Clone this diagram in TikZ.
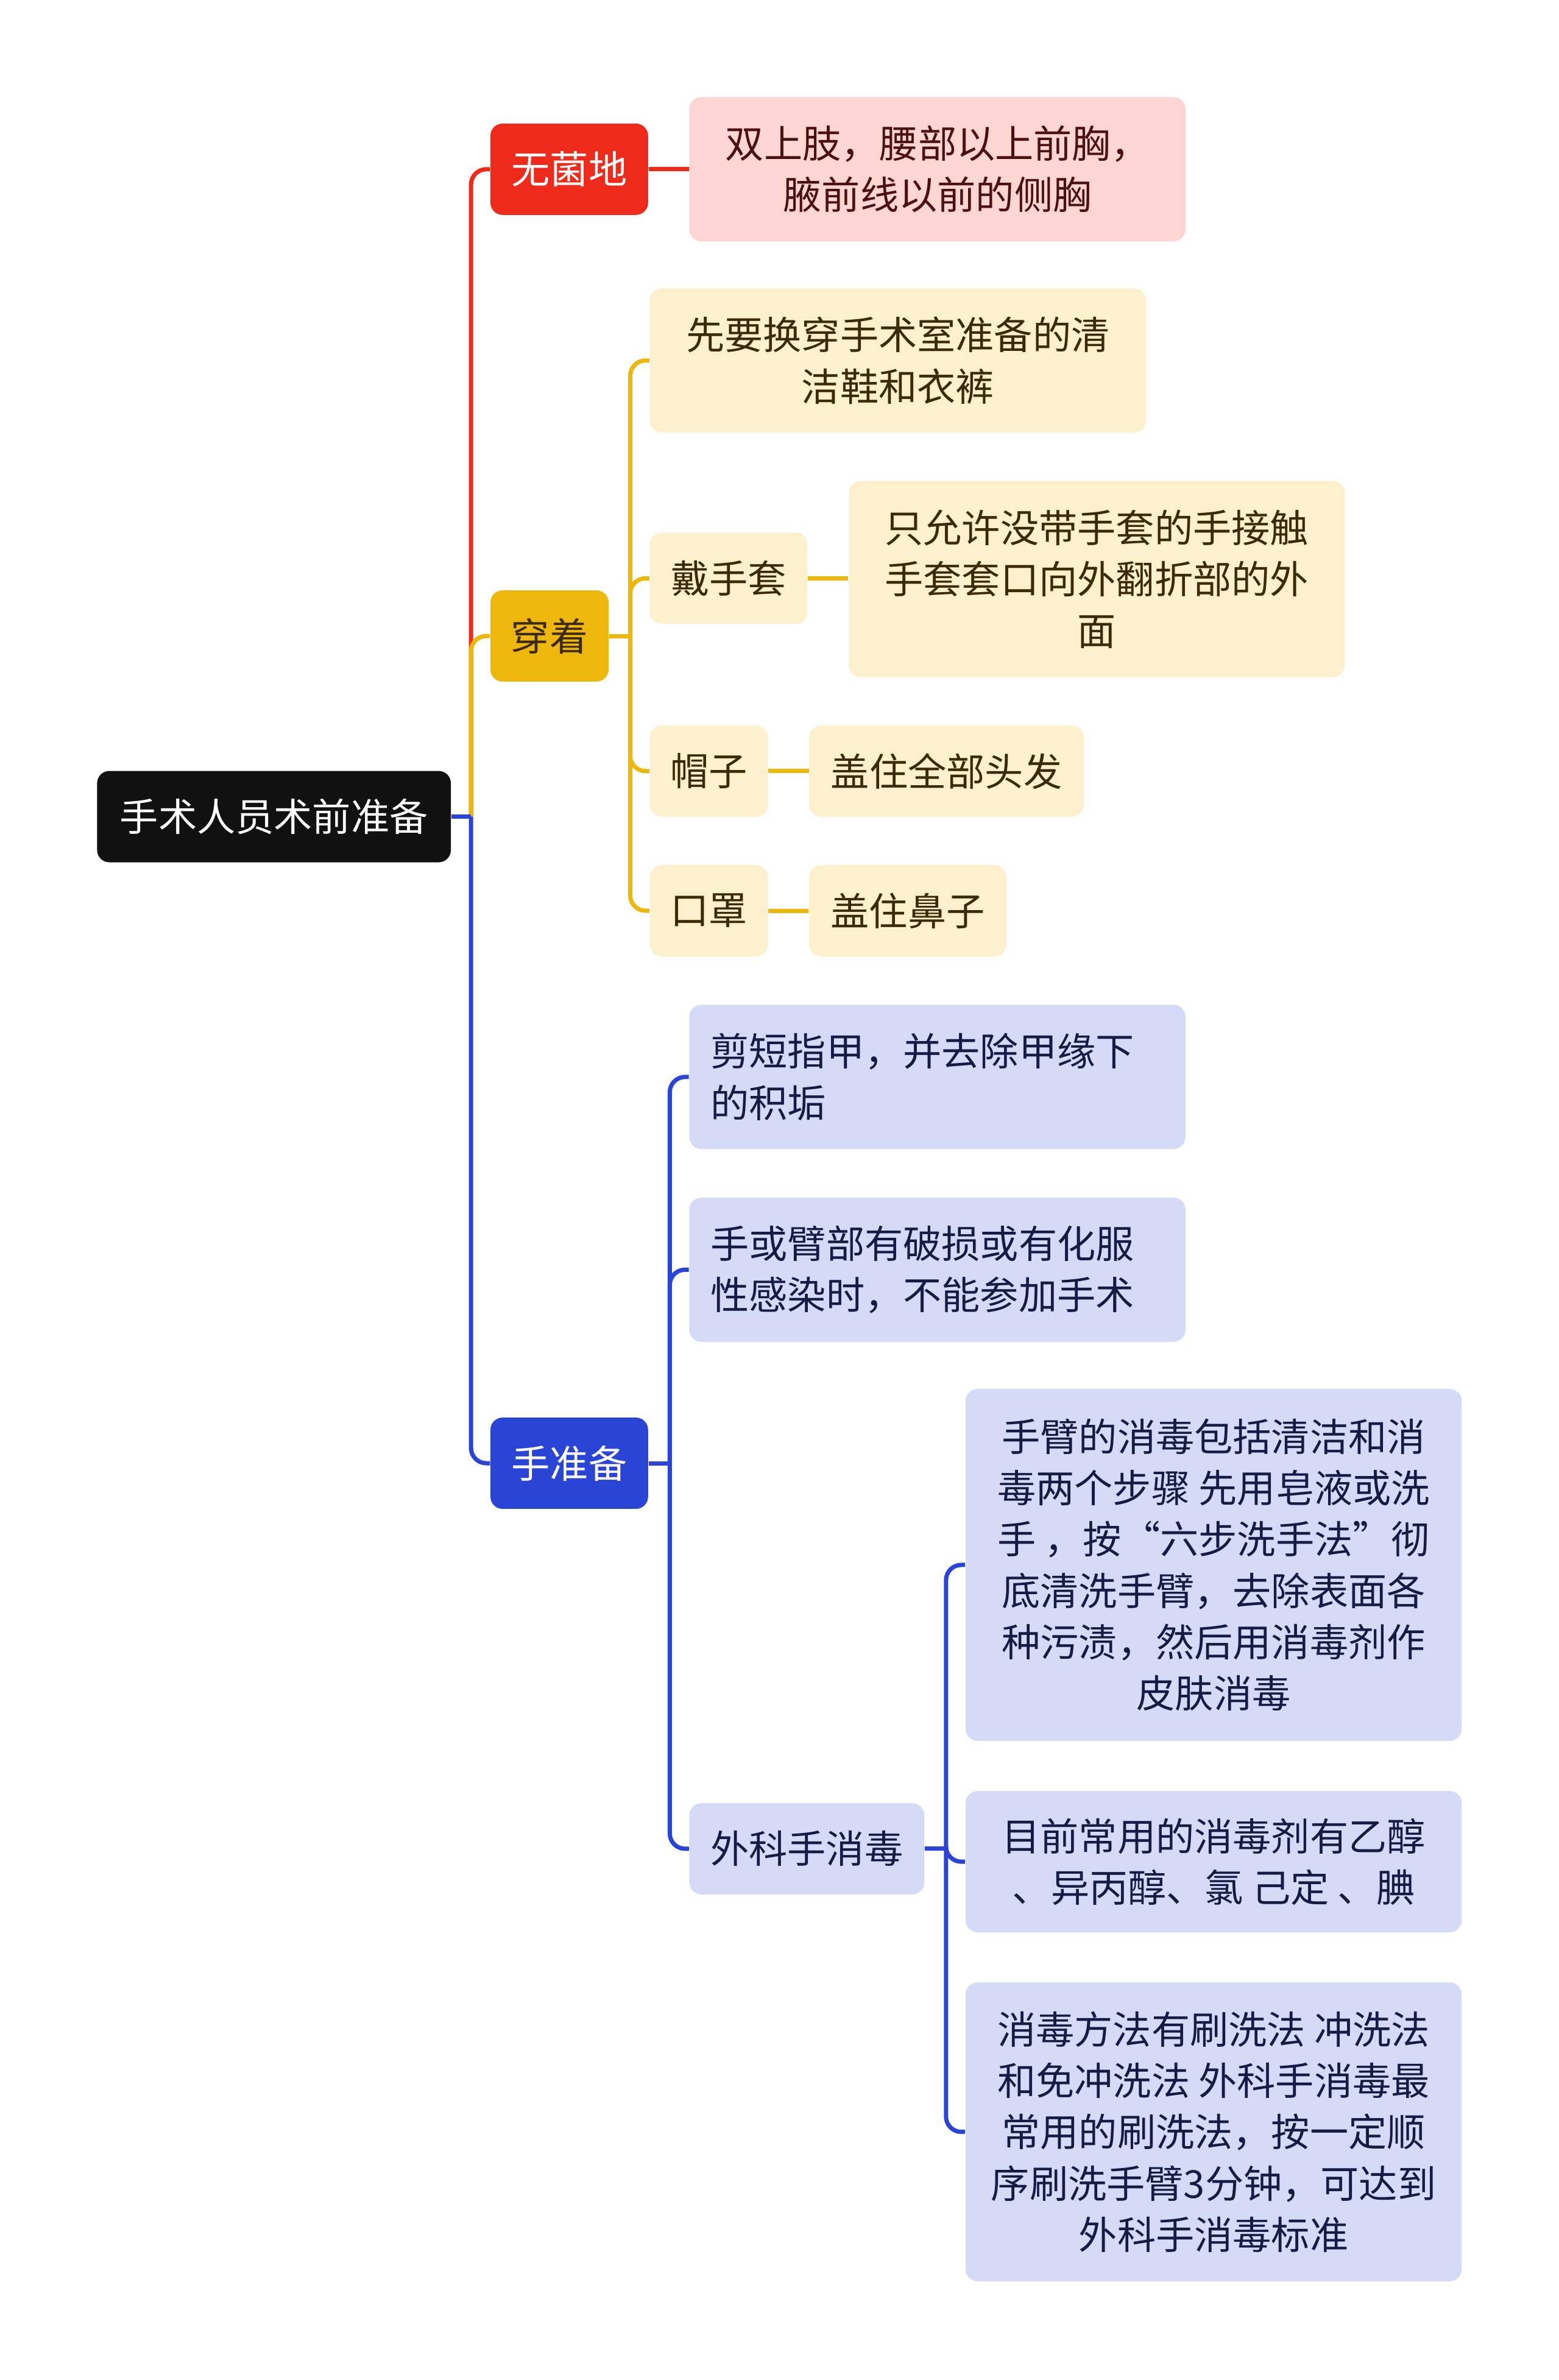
\documentclass[tikz,border=0pt]{standalone}
\usepackage{fontspec}
\setmainfont{Noto Sans CJK SC}
\usetikzlibrary{calc}
\definecolor{rootblack}{HTML}{111111}
\definecolor{sterilered}{HTML}{EE2A1B}
\definecolor{sterilepink}{HTML}{FDD5D3}
\definecolor{steriletext}{HTML}{4D1010}
\definecolor{weargold}{HTML}{EEB70B}
\definecolor{wearlight}{HTML}{FCF0CD}
\definecolor{weartext}{HTML}{3B2A05}
\definecolor{handblue}{HTML}{2A45D6}
\definecolor{handlight}{HTML}{D5DAF6}
\definecolor{handtext}{HTML}{161B45}
\tikzset{
  box/.style={
    rectangle,
    rounded corners=0.2cm,
    inner sep=0pt,
    align=center,
    font=\fontsize{18}{24}\selectfont
  },
  root box/.style={
    box,
    fill=rootblack,
    text=white,
    minimum width=5.81cm,
    minimum height=1.5cm
  },
  sterile topic/.style={box, fill=sterilered, text=white, minimum height=1.5cm},
  sterile leaf/.style={box, fill=sterilepink, text=steriletext},
  wear topic/.style={box, fill=weargold, text=weartext, minimum height=1.5cm},
  wear leaf/.style={box, fill=wearlight, text=weartext, minimum height=1.5cm},
  hand topic/.style={box, fill=handblue, text=white, minimum height=1.5cm},
  hand leaf/.style={box, fill=handlight, text=handtext, minimum height=1.5cm},
  link/.style={
    line width=2pt,
    rounded corners=0.25cm
  }
}

\begin{document}
\begin{tikzpicture}[x=0.024927cm, y=-0.024927cm]

  \useasboundingbox (0,0) rectangle (1027,1568);

  %% ---- 中心主题 ----
  \node[root box] (root) at (180.5, 538) {手术人员术前准备};

  %% ---- 无菌地 ----
  \node[sterile topic, minimum width=2.59cm] (sterile) at (375, 111.5) {无菌地};
  \node[sterile leaf, minimum width=8.15cm, minimum height=2.37cm] (sterilearea)
      at (617.5, 111.5) {双上肢，腰部以上前胸，\\腋前线以前的侧胸};

  %% ---- 穿着 ----
  \node[wear topic, minimum width=1.94cm] (wear) at (362, 419) {穿着};
  \node[wear leaf, minimum width=8.15cm, minimum height=2.37cm] (shoes)
      at (591.5, 237.5) {先要换穿手术室准备的清\\洁鞋和衣裤};
  \node[wear leaf, minimum width=2.59cm] (gloves) at (480, 381) {戴手套};
  \node[wear leaf, minimum width=8.15cm, minimum height=3.22cm] (glovesnote)
      at (722.5, 381.5) {只允许没带手套的手接触\\手套套口向外翻折部的外\\面};
  \node[wear leaf, minimum width=1.94cm] (cap) at (467, 508) {帽子};
  \node[wear leaf, minimum width=4.51cm] (hair) at (623.5, 508) {盖住全部头发};
  \node[wear leaf, minimum width=1.94cm] (mask) at (467, 600) {口罩};
  \node[wear leaf, minimum width=3.24cm] (nose) at (598, 600) {盖住鼻子};

  %% ---- 手准备 ----
  \node[hand topic, minimum width=2.59cm] (hand) at (375, 964) {手准备};
  \node[hand leaf, minimum width=8.15cm, minimum height=2.37cm, text width=7.45cm, align=left] (nails)
      at (617.5, 709.5) {剪短指甲，并去除甲缘下\\的积垢};
  \node[hand leaf, minimum width=8.15cm, minimum height=2.37cm, text width=7.45cm, align=left] (wound)
      at (617.5, 836.5) {手或臂部有破损或有化服\\性感染时，不能参加手术};
  \node[hand leaf, minimum width=3.86cm] (scrub) at (531.5, 1218) {外科手消毒};
  \node[hand leaf, minimum width=8.15cm, minimum height=5.78cm] (steps)
      at (799.5, 1031) {手臂的消毒包括清洁和消\\毒两个步骤 先用皂液或洗\\手 ，按“六步洗手法”彻\\底清洗手臂，去除表面各\\种污渍，然后用消毒剂作\\皮肤消毒};
  \node[hand leaf, minimum width=8.15cm, minimum height=2.32cm] (agents)
      at (799.5, 1226.5) {目前常用的消毒剂有乙醇\\、异丙醇、氯 己定 、腆};
  \node[hand leaf, minimum width=8.15cm, minimum height=4.91cm] (method)
      at (799.5, 1404.5) {消毒方法有刷洗法 冲洗法\\和免冲洗法 外科手消毒最\\常用的刷洗法，按一定顺\\序刷洗手臂3分钟，可达到\\外科手消毒标准};

  %% ---- 连线的分叉点 ----
  \coordinate (rootj) at ($ (root.east) + (13, 0) $);
  \coordinate (wearj) at ($ (wear.east) + (14, 0) $);
  \coordinate (handj) at ($ (hand.east) + (14, 0) $);
  \coordinate (scrubj) at ($ (scrub.east) + (14, 0) $);

  %% ---- 一级连线 ----
  \draw[link, sterilered] (rootj) |- (sterile.west);
  \draw[link, weargold] (rootj) |- (wear.west);
  \draw[link, handblue] (rootj) |- (hand.west);
  \draw[link, handblue] (root.east) -- (rootj);

  %% ---- 二级、三级连线 ----
  \draw[link, sterilered] (sterile.east) -- (sterilearea.west);

  \draw[link, weargold] (wear.east) -- (wearj);
  \draw[link, weargold] (wearj) |- (shoes.west);
  \draw[link, weargold] (wearj) |- (gloves.west);
  \draw[link, weargold] (wearj) |- (cap.west);
  \draw[link, weargold] (wearj) |- (mask.west);
  \draw[link, weargold] (gloves.east) -- (glovesnote.west |- gloves.east);
  \draw[link, weargold] (cap.east) -- (hair.west);
  \draw[link, weargold] (mask.east) -- (nose.west);

  \draw[link, handblue] (hand.east) -- (handj);
  \draw[link, handblue] (handj) |- (nails.west);
  \draw[link, handblue] (handj) |- (wound.west);
  \draw[link, handblue] (handj) |- (scrub.west);
  \draw[link, handblue] (scrub.east) -- (scrubj);
  \draw[link, handblue] (scrubj) |- (steps.west);
  \draw[link, handblue] (scrubj) |- (agents.west);
  \draw[link, handblue] (scrubj) |- (method.west);

\end{tikzpicture}
\end{document}
